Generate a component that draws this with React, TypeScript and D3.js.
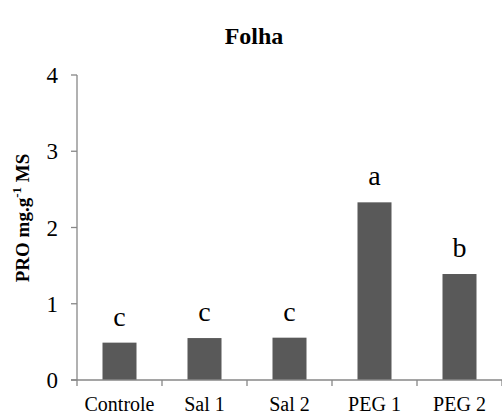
import React from "react";
import * as d3 from "d3";

const categories = ["Controle", "Sal 1", "Sal 2", "PEG 1", "PEG 2"];
const values = [0.49, 0.55, 0.555, 2.33, 1.39];
const letters = ["c", "c", "c", "a", "b"];
const yTicks = [0, 1, 2, 3, 4];

const W = 502;
const H = 414;
const left = 77;
const right = 502;
const top = 75;
const bottom = 380;

export default function App() {
  const x = d3.scaleBand<string>().domain(categories).range([left, right]).paddingInner(0).paddingOuter(0);
  const y = d3.scaleLinear().domain([0, 4]).range([bottom, top]);
  const bw = x.bandwidth() * 0.4;
  const axisColor = "#878787";
  const font = "'Liberation Serif', 'Times New Roman', serif";
  const bounds = [...categories.map((c) => x(c) as number), right];
  return (
    <svg width={W} height={H} style={{ position: "absolute", left: 0, top: 0, fontFamily: font }}>
      <rect width={W} height={H} fill="#fff" />
      <text x={254} y={44} textAnchor="middle" fontWeight="bold" fontSize={24} style={{ fontFamily: font }}>Folha</text>
      {/* y axis */}
      <line x1={left} x2={left} y1={top} y2={bottom} stroke={axisColor} strokeWidth={1.3} />
      {yTicks.map((t) => (
        <g key={t}>
          <line x1={left - 6} x2={left} y1={y(t)} y2={y(t)} stroke={axisColor} strokeWidth={1.3} />
          <text x={58} y={y(t) + 8} textAnchor="end" fontSize={23} style={{ fontFamily: font }}>{t}</text>
        </g>
      ))}
      {/* bars */}
      {categories.map((c, i) => {
        const cx = (x(c) as number) + x.bandwidth() / 2;
        return (
          <g key={c}>
            <rect x={cx - bw / 2} y={y(values[i])} width={bw} height={bottom - y(values[i])} fill="#595959" />
            <text x={cx} y={y(values[i]) - 17} textAnchor="middle" fontSize={28} style={{ fontFamily: font }}>{letters[i]}</text>
            <text x={cx} y={411} textAnchor="middle" fontSize={20} style={{ fontFamily: font }}>{c}</text>
          </g>
        );
      })}
      {/* x axis */}
      <line x1={left - 6} x2={right} y1={bottom} y2={bottom} stroke={axisColor} strokeWidth={1.3} />
      {bounds.map((b, i) => (
        <line key={i} x1={b} x2={b} y1={bottom} y2={bottom + 6} stroke={axisColor} strokeWidth={1.3} />
      ))}
      <text transform="translate(29,218) rotate(-90)" textAnchor="middle" fontWeight="bold" fontSize={19} style={{ fontFamily: font }}>
        PRO mg.g<tspan dy={-8} fontSize={13}>-1</tspan><tspan dy={8}> MS</tspan>
      </text>
    </svg>
  );
}
